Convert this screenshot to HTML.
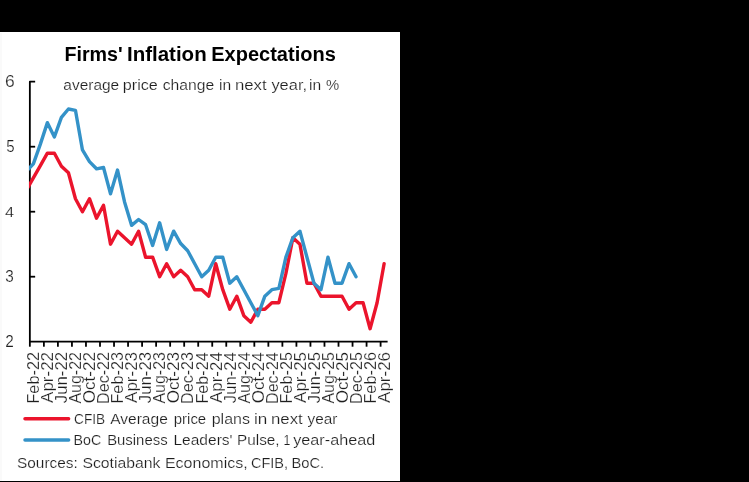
<!DOCTYPE html>
<html><head><meta charset="utf-8"><title>Firms' Inflation Expectations</title>
<style>
html,body{margin:0;padding:0;background:#000;}
body{width:749px;height:482px;overflow:hidden;position:relative;font-family:"Liberation Sans",sans-serif;}
svg{position:absolute;left:0;top:0;display:block;will-change:transform;}
text{font-family:"Liberation Sans",sans-serif;fill:#1e1e1e;stroke:#fff;stroke-width:0.2px;paint-order:fill stroke;}
</style></head><body>
<svg width="749" height="482" viewBox="0 0 749 482">
<rect x="0" y="0" width="749" height="482" fill="#000"/>
<rect x="0" y="32" width="400" height="449" fill="#fff"/>
<rect x="0" y="33" width="2" height="448" fill="#fafafa"/>

<text transform="translate(64.47,60.70) scale(0.9849,1)" font-size="20" font-weight="700" style="fill:#000;stroke:none">Firms&#39;</text>
<text transform="translate(127.02,60.70) scale(1.0245,1)" font-size="20" font-weight="700" style="fill:#000;stroke:none">Inflation</text>
<text transform="translate(211.25,60.70) scale(1.0006,1)" font-size="20" font-weight="700" style="fill:#000;stroke:none">Expectations</text>
<text transform="translate(63.32,89.60) scale(0.9982,1)" font-size="15.5">average</text>
<text transform="translate(122.79,89.60) scale(1.0438,1)" font-size="15.5">price</text>
<text transform="translate(162.71,89.60) scale(1.0133,1)" font-size="15.5">change</text>
<text transform="translate(219.12,89.60) scale(1.0073,1)" font-size="15.5">in</text>
<text transform="translate(234.95,89.60) scale(1.0817,1)" font-size="15.5">next</text>
<text transform="translate(271.40,89.60) scale(1.0602,1)" font-size="15.5">year,</text>
<text transform="translate(309.12,89.60) scale(1.0073,1)" font-size="15.5">in</text>
<text transform="translate(325.94,89.60) scale(0.9582,1)" font-size="15.5">%</text>
<text transform="translate(74.06,423.80) scale(0.9106,1)" font-size="15">CFIB</text>
<text transform="translate(110.20,423.80) scale(1.0365,1)" font-size="15">Average</text>
<text transform="translate(173.76,423.80) scale(0.9978,1)" font-size="15">price</text>
<text transform="translate(211.70,423.80) scale(1.0681,1)" font-size="15">plans</text>
<text transform="translate(254.03,423.80) scale(1.1420,1)" font-size="15">in</text>
<text transform="translate(270.95,423.80) scale(1.1214,1)" font-size="15">next</text>
<text transform="translate(307.50,423.80) scale(1.0238,1)" font-size="15">year</text>
<text transform="translate(73.59,444.90) scale(0.9495,1)" font-size="15">BoC</text>
<text transform="translate(107.13,444.90) scale(0.9945,1)" font-size="15">Business</text>
<text transform="translate(173.49,444.90) scale(1.0355,1)" font-size="15">Leaders&#39;</text>
<text transform="translate(237.10,444.90) scale(1.0204,1)" font-size="15">Pulse,</text>
<text transform="translate(283.43,444.90) scale(0.8239,1)" font-size="15">1</text>
<text transform="translate(293.20,444.90) scale(1.0820,1)" font-size="15">year-ahead</text>
<text transform="translate(17.02,467.50) scale(1.0267,1)" font-size="15">Sources:</text>
<text transform="translate(82.41,467.50) scale(1.0503,1)" font-size="15">Scotiabank</text>
<text transform="translate(164.95,467.50) scale(1.0673,1)" font-size="15">Economics,</text>
<text transform="translate(250.92,467.50) scale(0.9696,1)" font-size="15">CFIB,</text>
<text transform="translate(291.45,467.50) scale(0.9831,1)" font-size="15">BoC.</text>
<text transform="translate(4.98,86.70) scale(1.0933,1)" font-size="16">6</text>
<text transform="translate(6.23,151.70) scale(0.9419,1)" font-size="16">5</text>
<text transform="translate(5.05,216.70) scale(1.0718,1)" font-size="15.2">4</text>
<text transform="translate(5.32,281.70) scale(0.9548,1)" font-size="16">3</text>
<text transform="translate(5.18,346.70) scale(0.9600,1)" font-size="16">2</text>
<g stroke="#000" stroke-width="1.8" fill="none" stroke-linecap="butt">
<path stroke-linejoin="round" d="M35.15,81.70 H29.85 V341.70 H387.62"/>
<path d="M29.85,276.70 h5.3"/>
<path d="M29.85,211.70 h5.3"/>
<path d="M29.85,146.70 h5.3"/>
<path d="M29.85,341.70 v5"/>
<path d="M43.88,341.70 v5"/>
<path d="M57.91,341.70 v5"/>
<path d="M71.94,341.70 v5"/>
<path d="M85.97,341.70 v5"/>
<path d="M100.00,341.70 v5"/>
<path d="M114.03,341.70 v5"/>
<path d="M128.06,341.70 v5"/>
<path d="M142.09,341.70 v5"/>
<path d="M156.12,341.70 v5"/>
<path d="M170.15,341.70 v5"/>
<path d="M184.18,341.70 v5"/>
<path d="M198.21,341.70 v5"/>
<path d="M212.24,341.70 v5"/>
<path d="M226.27,341.70 v5"/>
<path d="M240.30,341.70 v5"/>
<path d="M254.33,341.70 v5"/>
<path d="M268.36,341.70 v5"/>
<path d="M282.39,341.70 v5"/>
<path d="M296.42,341.70 v5"/>
<path d="M310.45,341.70 v5"/>
<path d="M324.48,341.70 v5"/>
<path d="M338.51,341.70 v5"/>
<path d="M352.54,341.70 v5"/>
<path d="M366.57,341.70 v5"/>
<path d="M380.60,341.70 v5"/>
</g>
<defs><clipPath id="c"><rect x="28.95" y="60" width="370" height="290"/></clipPath></defs>
<g clip-path="url(#c)" fill="none" stroke-width="3.4" stroke-linejoin="round" stroke-linecap="round">
<path stroke="#EB142C" d="M26.34,190.25 L33.36,177.90 L40.37,165.55 L47.39,153.20 L54.40,153.20 L61.42,166.20 L68.43,172.70 L75.45,198.70 L82.46,211.70 L89.48,198.70 L96.49,218.20 L103.51,205.20 L110.52,244.20 L117.54,231.20 L124.55,237.70 L131.57,244.20 L138.58,231.20 L145.60,257.20 L152.61,257.20 L159.63,276.70 L166.64,263.70 L173.66,276.70 L180.67,270.20 L187.69,276.70 L194.70,289.70 L201.72,289.70 L208.73,296.20 L215.75,263.70 L222.76,289.70 L229.78,309.20 L236.79,296.20 L243.81,315.70 L250.82,322.20 L257.84,309.20 L264.85,309.20 L271.87,302.70 L278.88,302.70 L285.90,273.45 L292.91,237.70 L299.93,244.20 L306.94,283.20 L313.96,283.20 L320.97,296.20 L327.99,296.20 L335.00,296.20 L342.02,296.20 L349.03,309.20 L356.05,302.70 L363.06,302.70 L370.08,328.70 L377.09,302.70 L384.11,263.70"/>
<path stroke="#3492C8" d="M26.34,171.40 L33.36,163.92 L40.37,144.10 L47.39,122.65 L54.40,136.95 L61.42,117.45 L68.43,109.00 L75.45,110.30 L82.46,149.95 L89.48,161.65 L96.49,168.80 L103.51,167.50 L110.52,193.82 L117.54,170.10 L124.55,201.95 L131.57,225.35 L138.58,219.50 L145.60,224.70 L152.61,245.50 L159.63,222.75 L166.64,249.40 L173.66,231.20 L180.67,243.55 L187.69,250.70 L194.70,263.70 L201.72,276.70 L208.73,270.20 L215.75,257.20 L222.76,257.20 L229.78,283.20 L236.79,276.70 L243.81,289.70 L250.82,302.70 L257.84,315.70 L264.85,296.20 L271.87,289.70 L278.88,288.40 L285.90,257.20 L292.91,237.70 L299.93,231.20 L306.94,257.20 L313.96,283.20 L320.97,289.70 L327.99,257.20 L335.00,283.20 L342.02,283.20 L349.03,263.70 L356.05,276.70"/>
</g>
<text transform="translate(39.16,403.57) rotate(-90) scale(1.0249,1)" font-size="15.9">Feb-22</text>
<text transform="translate(53.19,402.90) rotate(-90) scale(1.0684,1)" font-size="15.9">Apr-22</text>
<text transform="translate(67.22,403.16) rotate(-90) scale(1.0540,1)" font-size="15.9">Jun-22</text>
<text transform="translate(81.25,403.60) rotate(-90) scale(1.0074,1)" font-size="15.9">Aug-22</text>
<text transform="translate(95.28,403.30) rotate(-90) scale(1.0772,1)" font-size="15.9">Oct-22</text>
<text transform="translate(109.31,403.96) rotate(-90) scale(1.0148,1)" font-size="15.9">Dec-22</text>
<text transform="translate(123.34,403.57) rotate(-90) scale(1.0249,1)" font-size="15.9">Feb-23</text>
<text transform="translate(137.37,402.90) rotate(-90) scale(1.0684,1)" font-size="15.9">Apr-23</text>
<text transform="translate(151.40,403.16) rotate(-90) scale(1.0540,1)" font-size="15.9">Jun-23</text>
<text transform="translate(165.43,403.60) rotate(-90) scale(1.0074,1)" font-size="15.9">Aug-23</text>
<text transform="translate(179.46,403.30) rotate(-90) scale(1.0772,1)" font-size="15.9">Oct-23</text>
<text transform="translate(193.49,403.96) rotate(-90) scale(1.0148,1)" font-size="15.9">Dec-23</text>
<text transform="translate(207.52,403.57) rotate(-90) scale(1.0197,1)" font-size="15.9">Feb-24</text>
<text transform="translate(221.55,402.90) rotate(-90) scale(1.0628,1)" font-size="15.9">Apr-24</text>
<text transform="translate(235.58,403.16) rotate(-90) scale(1.0485,1)" font-size="15.9">Jun-24</text>
<text transform="translate(249.61,403.60) rotate(-90) scale(1.0025,1)" font-size="15.9">Aug-24</text>
<text transform="translate(263.64,403.30) rotate(-90) scale(1.0714,1)" font-size="15.9">Oct-24</text>
<text transform="translate(277.67,403.95) rotate(-90) scale(1.0097,1)" font-size="15.9">Dec-24</text>
<text transform="translate(291.70,403.57) rotate(-90) scale(1.0249,1)" font-size="15.9">Feb-25</text>
<text transform="translate(305.73,402.90) rotate(-90) scale(1.0684,1)" font-size="15.9">Apr-25</text>
<text transform="translate(319.76,403.16) rotate(-90) scale(1.0540,1)" font-size="15.9">Jun-25</text>
<text transform="translate(333.79,403.60) rotate(-90) scale(1.0074,1)" font-size="15.9">Aug-25</text>
<text transform="translate(347.82,403.30) rotate(-90) scale(1.0772,1)" font-size="15.9">Oct-25</text>
<text transform="translate(361.85,403.96) rotate(-90) scale(1.0148,1)" font-size="15.9">Dec-25</text>
<text transform="translate(375.88,403.57) rotate(-90) scale(1.0249,1)" font-size="15.9">Feb-26</text>
<text transform="translate(389.91,402.90) rotate(-90) scale(1.0684,1)" font-size="15.9">Apr-26</text>
<g fill="none" stroke-width="3.5" stroke-linecap="round">
<path stroke="#EB142C" d="M25,418.8 H68.6"/>
<path stroke="#3492C8" d="M25,440 H68.6"/>
</g>
</svg></body></html>
